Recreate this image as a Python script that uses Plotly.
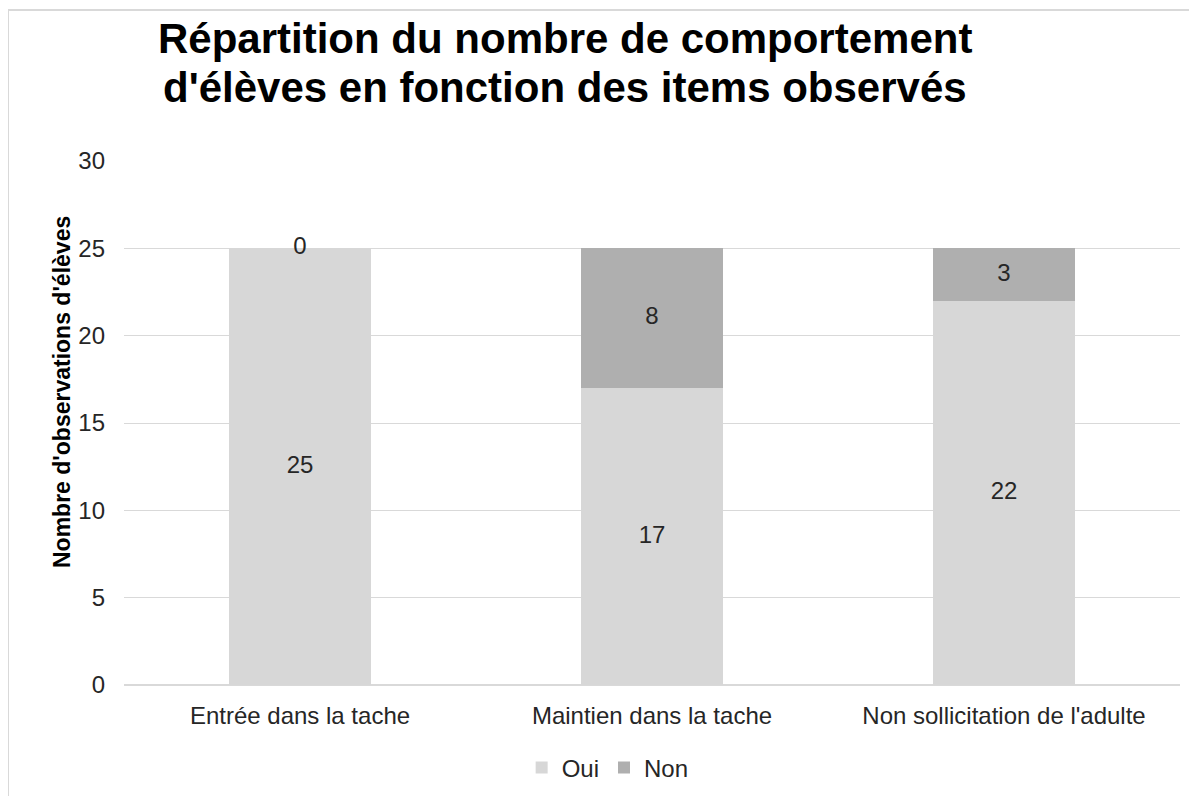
import plotly.graph_objects as go

categories = ["Entrée dans la tache", "Maintien dans la tache", "Non sollicitation de l'adulte"]
oui = [25, 17, 22]
non = [0, 8, 3]
y_ticks = [0, 5, 10, 15, 20, 25, 30]
title_lines = ["Répartition du nombre de comportement", "d'élèves en fonction des items observés"]
y_title = "Nombre d'observations d'élèves"

FONT = "Liberation Sans, Arial, sans-serif"
TXT = "#262626"

fig = go.Figure()
fig.add_trace(go.Bar(name="Oui", x=categories, y=oui, marker=dict(color="#d7d7d7", line=dict(width=0))))
fig.add_trace(go.Bar(name="Non", x=categories, y=non, marker=dict(color="#afafaf", line=dict(width=0))))

# data labels at segment centres computed from the data
mid_oui = [v / 2 for v in oui]
mid_non = [o + n / 2 for o, n in zip(oui, non)]
fig.add_trace(go.Scatter(x=categories, y=mid_oui, text=[str(v) for v in oui], mode="text",
                         textfont=dict(size=24, color=TXT, family=FONT), showlegend=False, hoverinfo="skip"))
fig.add_trace(go.Scatter(x=categories, y=mid_non, text=[str(v) for v in non], mode="text",
                         textfont=dict(size=24, color=TXT, family=FONT), showlegend=False, hoverinfo="skip"))

fig.update_layout(
    width=1197, height=796,
    barmode="stack", bargap=0.597,
    paper_bgcolor="white", plot_bgcolor="white",
    font=dict(family=FONT, color=TXT),
    margin=dict(l=116, r=25, t=153, b=119),
    legend=dict(orientation="h", x=0.458, xanchor="center", y=-0.158, yanchor="middle",
                font=dict(size=24, color=TXT, family=FONT), traceorder="normal",
                itemwidth=30),
    showlegend=True,
)
fig.update_xaxes(showgrid=False, showline=False, ticks="", tickfont=dict(size=24, color=TXT),
                 ticklabelstandoff=14)
fig.update_yaxes(range=[0, 30], tickvals=y_ticks, showgrid=True, gridcolor="#d9d9d9", gridwidth=1,
                 zeroline=True, zerolinecolor="#d9d9d9", zerolinewidth=2, showline=False,
                 tickfont=dict(size=24, color=TXT), ticks="", ticklen=0, ticklabelstandoff=18)

# y-axis title (placed slightly above plot centre as in the reference)
fig.add_annotation(text="<b>" + y_title + "</b>", xref="paper", yref="paper",
                   x=(62 - 124) / 1056, y=(685 - 392) / 524, textangle=-90,
                   xanchor="center", yanchor="middle", showarrow=False,
                   font=dict(size=23, color="black", family=FONT))

# two-line chart title
for yy, line in zip([(685 - 39) / 524, (685 - 88) / 524], title_lines):
    fig.add_annotation(text="<b>" + line + "</b>", xref="paper", yref="paper", x=(565 - 124) / 1056, y=yy,
                       xanchor="center", yanchor="middle", showarrow=False,
                       font=dict(size=42, color="black", family=FONT))

# outer chart-area border (top and left edges visible)
x0 = (8 - 124) / 1056
ytop = (685 - 10) / 524
fig.add_shape(type="line", xref="paper", yref="paper", x0=x0, x1=1.1, y0=ytop, y1=ytop,
              line=dict(color="#d9d9d9", width=2))
fig.add_shape(type="line", xref="paper", yref="paper", x0=x0, x1=x0, y0=ytop, y1=-0.3,
              line=dict(color="#d9d9d9", width=2))

fig.write_html("out.html")
